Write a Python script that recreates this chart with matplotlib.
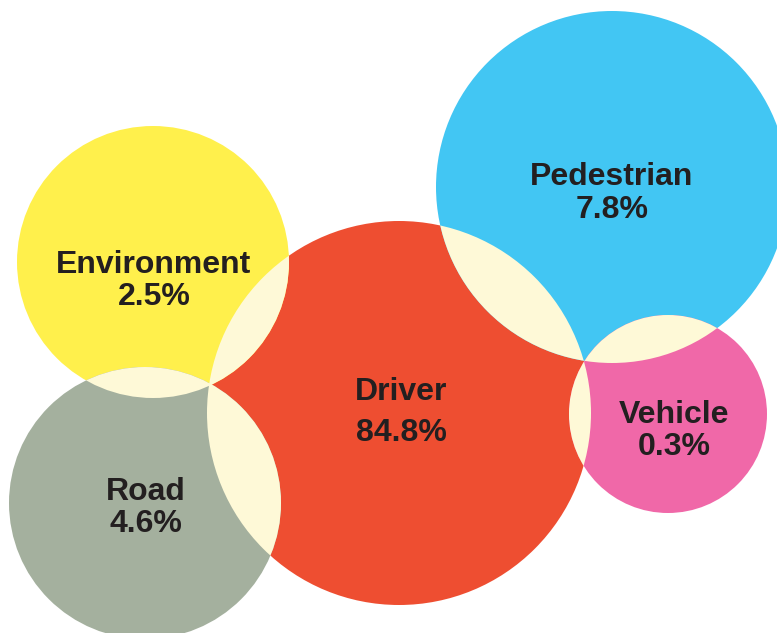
import matplotlib
matplotlib.use('Agg')
import matplotlib.pyplot as plt
from matplotlib.patches import Circle

# data
categories = ['Driver', 'Pedestrian', 'Environment', 'Road', 'Vehicle']
shares = [84.8, 7.8, 2.5, 4.6, 0.3]

# layout (pixel coords, y down)
centers = [(399, 413), (612, 187), (153, 262), (145, 503), (668, 414)]
radii = [192, 176, 136, 136, 99]
colors = ['#EE4E31', '#42C6F3', '#FFF04C', '#A4B09E', '#F068A8']
overlap_color = '#FEF9D7'
text_color = '#231F20'
# x, y of name line, y of percent line
label_pos = [(401, 392, 433), (612, 177, 210), (154, 265, 297), (146, 492, 524), (674, 415, 447)]

fig = plt.figure(figsize=(7.77, 6.33), dpi=100)
ax = fig.add_axes([0, 0, 1, 1])
ax.set_xlim(0, 777)
ax.set_ylim(633, 0)
ax.set_aspect('equal')
ax.axis('off')

# Draw each circle
for c, r, col in zip(centers, radii, colors):
    ax.add_patch(Circle(c, r, color=col, lw=0, zorder=1))

# Fill pairwise overlaps in cream
for i in range(len(centers)):
    for j in range(i + 1, len(centers)):
        (x1, y1), (x2, y2) = centers[i], centers[j]
        d = ((x1 - x2) ** 2 + (y1 - y2) ** 2) ** 0.5
        if d < radii[i] + radii[j]:
            clip = Circle(centers[i], radii[i], transform=ax.transData)
            p = Circle(centers[j], radii[j], color=overlap_color, lw=0, zorder=2)
            ax.add_patch(p)
            p.set_clip_path(clip)

# Labels
for name, val, (x, y1, y2) in zip(categories, shares, label_pos):
    ax.text(x, y1, name, ha='center', va='center', fontsize=23, fontweight='bold',
            family='Liberation Sans', color=text_color, zorder=3)
    ax.text(x, y2, f'{val}%', ha='center', va='center', fontsize=23, fontweight='bold',
            family='Liberation Sans', color=text_color, zorder=3)

fig.savefig('out.png', dpi=100)
